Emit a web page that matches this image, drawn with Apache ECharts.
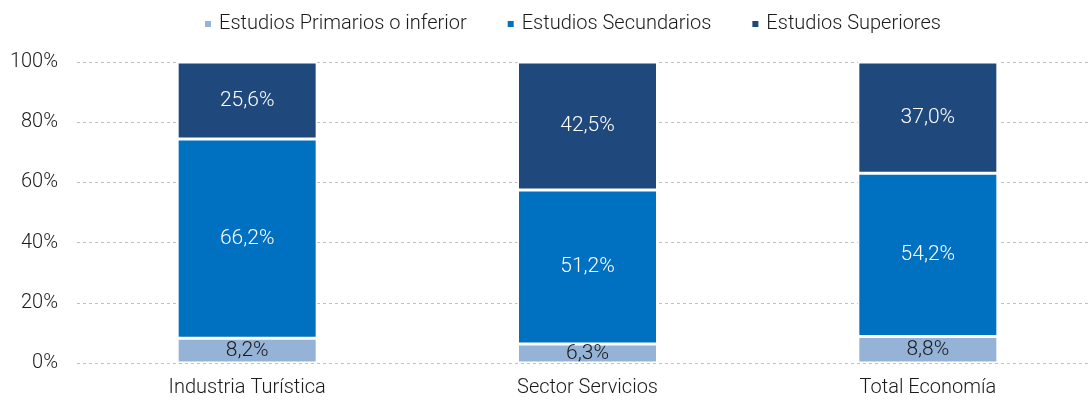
<!DOCTYPE html>
<html><head><meta charset="utf-8">
<script src="https://cdn.jsdelivr.net/npm/echarts@6/dist/echarts.min.js"></script>
<style>html,body{margin:0;padding:0;background:#fff;overflow:hidden}#c{width:1098px;height:401px}</style>
</head><body><div id="c"></div>
<script>
const categories = ['Industria Turística', 'Sector Servicios', 'Total Economía'];
const primarios = [8.2, 6.3, 8.8];
const secundarios = [66.2, 51.2, 54.2];
const superiores = [25.6, 42.5, 37.0];
const seriesNames = ['Estudios Primarios o inferior', 'Estudios Secundarios', 'Estudios Superiores'];
const yTicks = [0, 20, 40, 60, 80, 100];

const FONT = "Roboto, sans-serif";
const FW = 300;
const fmt = p => p.value.toFixed(1).replace('.', ',') + '%';
const chart = echarts.init(document.getElementById('c'));
function mk(name, data, color, labelColor) {
  return {
    name, type: 'bar', stack: 'a', data, barWidth: 140,
    itemStyle: { color, borderColor: '#ffffff', borderWidth: 1.5 },
    label: { show: true, position: 'inside', formatter: fmt, color: labelColor, fontSize: 21, fontWeight: FW, fontFamily: FONT },
    emphasis: { disabled: true }
  };
}
chart.setOption({
  animation: false,
  textStyle: { fontFamily: FONT },
  legend: {
    top: 14, left: 203, padding: 0, itemWidth: 8, itemHeight: 8, itemGap: 39,
    icon: 'rect',
    textStyle: { fontSize: 20, color: '#1a1a1a', fontFamily: FONT, fontWeight: FW, padding: [0, 0, 0, 2] },
    data: seriesNames
  },
  grid: { left: 77, top: 62, right: 0, height: 301, containLabel: false },
  xAxis: {
    type: 'category', data: categories,
    axisLine: { show: false }, axisTick: { show: false },
    axisLabel: { fontSize: 20, color: '#1a1a1a', margin: 15, fontFamily: FONT, fontWeight: FW }
  },
  yAxis: {
    type: 'value', min: 0, max: 100, interval: 20,
    axisLabel: { formatter: v => v + '%', fontSize: 20, color: '#1a1a1a', margin: 19, fontFamily: FONT, fontWeight: FW },
    splitLine: { lineStyle: { color: '#bfbfbf', type: [3, 3], width: 1 } },
    axisLine: { show: false }, axisTick: { show: false }
  },
  series: [
    mk(seriesNames[0], primarios, '#95B3D7', '#1a1a1a'),
    mk(seriesNames[1], secundarios, '#0070C0', '#ffffff'),
    mk(seriesNames[2], superiores, '#1F497D', '#ffffff')
  ]
});
</script></body></html>
